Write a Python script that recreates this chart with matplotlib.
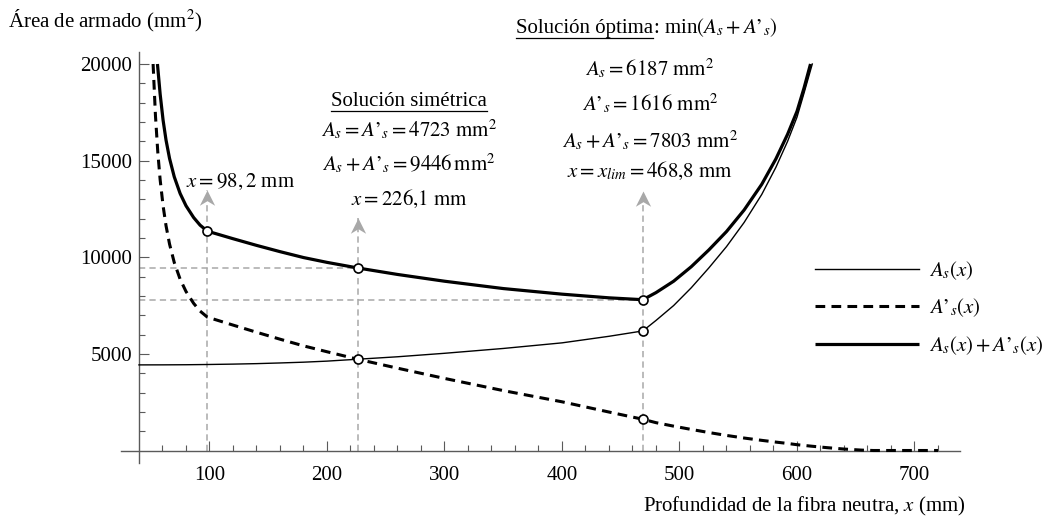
import matplotlib
matplotlib.use("Agg")
import matplotlib.pyplot as plt
from matplotlib.path import Path
from matplotlib.lines import Line2D
from matplotlib.transforms import IdentityTransform
from matplotlib.ticker import FixedLocator, NullFormatter

plt.rcParams['font.family'] = ['Liberation Serif', 'DejaVu Serif']
plt.rcParams['mathtext.fontset'] = 'stix'
plt.rcParams['lines.scale_dashes'] = False

# ---------------- data ----------------
x_as = [40, 60, 80, 98.2, 120, 140, 160, 180, 200, 226.1, 260, 300, 350, 400,
        440, 468.8, 480, 495, 510, 525, 540, 555, 570, 582, 592, 600, 606, 613]
as_vals = [4430, 4432, 4438, 4450, 4470, 4495, 4530, 4570, 4625, 4723, 4850, 5030,
           5280, 5570, 5910, 6187, 6730, 7500, 8420, 9450, 10550, 11800, 13250,
           14650, 16000, 17250, 18500, 20000]

x_asp = [52, 54, 56, 58, 60.5, 63, 66, 70, 75, 80, 86.5, 92, 98.2, 120, 140, 160,
         180, 200, 226.1, 260, 300, 350, 400, 440, 468.8, 480, 495, 510, 525, 540,
         555, 570, 582, 592, 600, 612, 625, 640, 655, 665, 690, 720]
asp_vals = [20000, 17330, 15435, 14009, 12660, 11632, 10680, 9730, 8865, 8228, 7614,
            7214, 6900, 6490, 6120, 5760, 5415, 5110, 4723, 4260, 3730, 3100, 2520,
            1990, 1616, 1440, 1260, 1090, 930, 780, 645, 525, 435, 365, 300, 225,
            150, 75, 20, 0, 0, 0]

x_tot = [55.7, 58, 60.5, 63, 66, 70, 75, 80, 86.5, 92, 98.2, 120, 140, 160, 180,
         200, 226.1, 260, 300, 350, 400, 440, 468.8, 480, 495, 510, 525, 540, 555,
         570, 582, 592, 600, 606, 611.5]
tot_vals = [20000, 18441, 17092, 16064, 15112, 14163, 13300, 12665, 12055, 11660,
            11350, 10960, 10615, 10290, 9985, 9735, 9446, 9110, 8760, 8380, 8090,
            7900, 7803, 8170, 8760, 9510, 10380, 11330, 12445, 13775, 15085, 16365,
            17550, 18760, 20000]

key_x = [98.2, 226.1, 468.8]
pt_x = [98.2, 226.1, 226.1, 468.8, 468.8, 468.8]
pt_y = [11350, 9446, 4723, 7803, 6187, 1616]
ref_y = [9446, 7803]
ref_xend = [226.1, 468.8]

x_major = [100, 200, 300, 400, 500, 600, 700]
x_minor = [v for v in range(60, 721, 20) if v % 100 != 0]
y_major = [5000, 10000, 15000, 20000]
y_minor = [v for v in range(1000, 20000, 1000) if v % 5000 != 0]

AP = r"\mathrm{’}"   # apostrophe used in A'_s
legend_labels = [r"$A_s(x)$", rf"$A{AP}_s(x)$", rf"$A_s(x) + A{AP}_s(x)$"]

# ---------------- layout ----------------
W, H = 1053, 517
PX0, PXS = 92.0, 1.175      # pixel x = PX0 + PXS * x
PY0, PYS = 450.5, 0.019325  # pixel y = PY0 - PYS * y
arrow_tip = [13500, 12050, 13450]

fig = plt.figure(figsize=(W / 100, H / 100), dpi=100)
ax = fig.add_axes([0, 0, 1, 1])
ax.set_xlim(-PX0 / PXS, (W - PX0) / PXS)
ax.set_ylim((PY0 - H) / PYS, PY0 / PYS)
ax.patch.set_alpha(0)

axis_col = '#5a5a5a'
for s in ['top', 'right']:
    ax.spines[s].set_visible(False)
ax.spines['left'].set_position(('data', 40))
ax.spines['bottom'].set_position(('data', 0))
ax.spines['left'].set_bounds(-650, 20600)
ax.spines['bottom'].set_bounds(25, 739)
for s in ['left', 'bottom']:
    ax.spines[s].set_color(axis_col)
    ax.spines[s].set_linewidth(1.0)

ax.xaxis.set_major_locator(FixedLocator(x_major))
ax.xaxis.set_minor_locator(FixedLocator(x_minor))
ax.yaxis.set_major_locator(FixedLocator(y_major))
ax.yaxis.set_minor_locator(FixedLocator(y_minor))
ax.xaxis.set_minor_formatter(NullFormatter())
ax.yaxis.set_minor_formatter(NullFormatter())
ax.tick_params(which='both', direction='in', color=axis_col, width=0.8,
               labelsize=15, labelcolor='black')
ax.tick_params(which='major', length=7.5)
ax.tick_params(which='minor', length=4.5)
ax.tick_params(axis='x', which='major', pad=11)
ax.tick_params(axis='y', which='major', pad=5)

# guide lines
gcol = '#a8a8a8'
gdash = (4.5, 3.0)
ax.vlines(key_x, 0, arrow_tip, colors=gcol, linewidth=1.1,
          linestyles=[(0, gdash)], zorder=1)
ax.hlines(ref_y, 40, ref_xend, colors=gcol, linewidth=1.1,
          linestyles=[(0, gdash)], zorder=1)
arrow_path = Path([(0, 0), (-0.5, -1.0), (0, -0.7), (0.5, -1.0), (0, 0)],
                  [Path.MOVETO, Path.LINETO, Path.LINETO, Path.LINETO, Path.CLOSEPOLY])
ax.plot(key_x, arrow_tip, linestyle='none', marker=arrow_path, markersize=22,
        color=gcol, markeredgewidth=0, zorder=2)

# curves
l1, = ax.plot(x_as, as_vals, color='black', linewidth=1.0, zorder=3)
l2, = ax.plot(x_asp, asp_vals, color='black', linewidth=2.2,
              dashes=(7.0, 4.5), zorder=3)
l3, = ax.plot(x_tot, tot_vals, color='black', linewidth=2.3, zorder=3,
              solid_capstyle='butt')
ax.plot(pt_x, pt_y, linestyle='none', marker='o', markersize=6.5,
        markerfacecolor='white', markeredgecolor='black', markeredgewidth=1.2,
        zorder=4)

# legend
ax.legend([l1, l2, l3], legend_labels, loc='upper left',
          bbox_to_anchor=(815 / W, 1 - 259 / H), bbox_transform=fig.transFigure,
          frameon=False, fontsize=15, handlelength=5.0, handletextpad=0.45,
          labelspacing=0.72, borderpad=0, borderaxespad=0)

# texts (pixel positions)
ident = IdentityTransform()


def ptext(px, py, s, **kw):
    kw.setdefault('fontsize', 15)
    kw.setdefault('va', 'baseline')
    return ax.text(px, H - py, s, transform=ident, **kw)


ptext(8, 27, r"Área de armado (mm$^2$)", ha='left')
ptext(966, 511, r"Profundidad de la fibra neutra, $x$ (mm)", ha='right')

ptext(241, 187, r"$x = 98,2$ mm", ha='center')

t_sim = ptext(409, 106, "Solución simétrica", ha='center')
ptext(409, 137, rf"$A_s = A{AP}_s = 4723\ \mathrm{{mm}}^2$", ha='center')
ptext(409, 171, rf"$A_s + A{AP}_s = 9446\,\mathrm{{mm}}^2$", ha='center')
ptext(409, 205, r"$x = 226{,}1\ \mathrm{mm}$", ha='center')

t_opt = ptext(653, 33, "Solución óptima", ha='right')
ptext(653, 33, rf": min$\left(A_s + A{AP}_s\right)$", ha='left')
ptext(650, 76, r"$A_s = 6187\ \mathrm{mm}^2$", ha='center')
ptext(650, 111, rf"$A{AP}_s = 1616\ \mathrm{{mm}}^2$", ha='center')
ptext(650, 148, rf"$A_s + A{AP}_s = 7803\ \mathrm{{mm}}^2$", ha='center')
ptext(650, 177, r"$x = x_{lim} = 468{,}8\ \mathrm{mm}$", ha='center')

# underlines
fig.canvas.draw()
r = fig.canvas.get_renderer()
for t, py in [(t_sim, 110.5), (t_opt, 37.5)]:
    bb = t.get_window_extent(r)
    fig.add_artist(Line2D([bb.x0, bb.x1], [H - py, H - py], transform=ident,
                          color='black', linewidth=0.9))

fig.savefig("out.png", dpi=100)
